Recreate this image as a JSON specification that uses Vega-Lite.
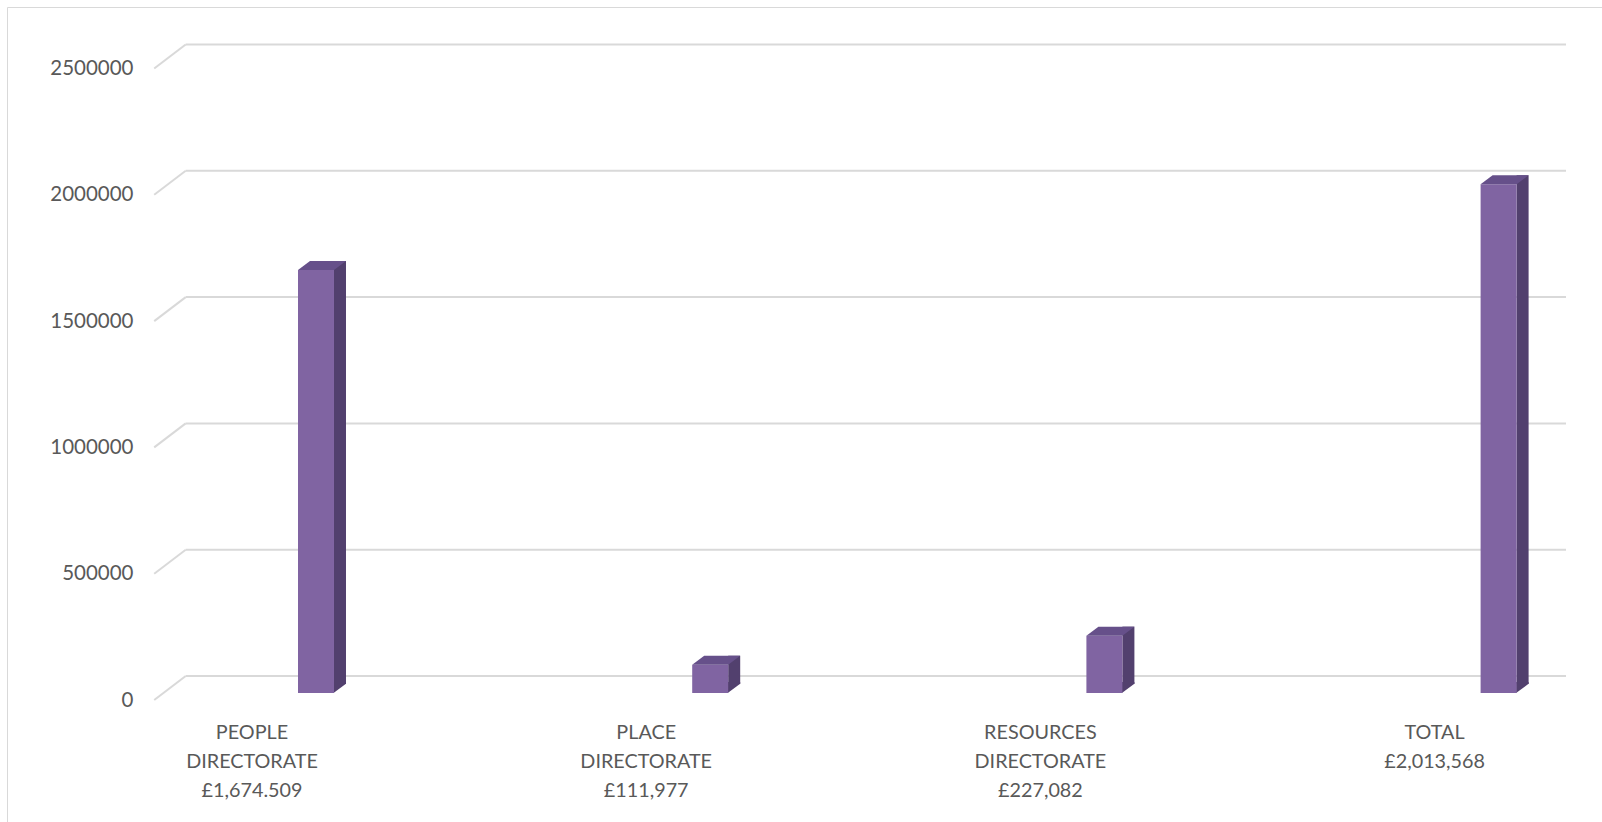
{
  "$schema": "https://vega.github.io/schema/vega-lite/v6.json",
  "width": 1596,
  "height": 816,
  "autosize": {"type": "none"},
  "padding": {"left": 7, "top": 7, "right": -1, "bottom": -1},
  "background": "white",
  "config": {"view": {"stroke": "#D9D9D9", "strokeWidth": 1}, "font": "Lato"},
  "datasets": {
    "spend": [
      {"category": "PEOPLE DIRECTORATE £1,674.509", "amount": 1674509},
      {"category": "PLACE DIRECTORATE £111,977", "amount": 111977},
      {"category": "RESOURCES DIRECTORATE £227,082", "amount": 227082},
      {"category": "TOTAL £2,013,568", "amount": 2013568}
    ],
    "grid": [
      {"v": 0}, {"v": 500000}, {"v": 1000000}, {"v": 1500000}, {"v": 2000000}, {"v": 2500000}
    ]
  },
  "resolve": {"scale": {"x": "independent"}},
  "layer": [
    {
      "data": {"name": "grid"},
      "mark": {"type": "rule", "stroke": "#D9D9D9", "strokeWidth": 2, "yOffset": -24},
      "encoding": {
        "x": {"datum": 0, "type": "quantitative", "scale": {"domain": [0, 1], "range": [178.7, 1559], "nice": false, "zero": false}, "axis": null},
        "x2": {"datum": 1},
        "y": {
          "field": "v", "type": "quantitative",
          "scale": {"domain": [0, 2500000], "range": [693, 61.5], "nice": false},
          "axis": {
            "title": null, "values": [0, 500000, 1000000, 1500000, 2000000, 2500000], "format": "d",
            "labelFontSize": 20.5, "labelColor": "#595959", "labelFont": "Lato", "domain": false, "ticks": false,
            "tickSize": 0, "labelPadding": 0, "offset": -126, "grid": false, "labelBaseline": "middle"
          }
        }
      }
    },
    {
      "data": {"name": "grid"},
      "mark": {"type": "rule", "stroke": "#D9D9D9", "strokeWidth": 2, "xOffset": -31.5, "x2Offset": 0, "yOffset": 0, "y2Offset": -24},
      "encoding": {
        "x": {"datum": 0, "type": "quantitative", "scale": {"domain": [0, 1], "range": [178.7, 1559], "nice": false, "zero": false}, "axis": null},
        "x2": {"datum": 0},
        "y": {"field": "v", "type": "quantitative", "scale": {"domain": [0, 2500000], "range": [693, 61.5], "nice": false}},
        "y2": {"field": "v"}
      }
    },
    {
      "data": {"name": "spend"},
      "mark": {"type": "bar", "width": 12, "xOffset": 24, "yOffset": -16, "y2Offset": -16, "color": "#52406E"},
      "encoding": {
        "x": {"field": "category", "type": "nominal", "sort": null, "scale": {"type": "band", "range": [291, 1509.6], "paddingInner": 0.9087, "paddingOuter": 0}, "axis": null},
        "y": {"field": "amount", "type": "quantitative", "scale": {"domain": [0, 2500000], "range": [693, 61.5], "nice": false}}
      }
    },
    {
      "data": {"name": "spend"},
      "mark": {"type": "point", "shape": "M 17.5 0 L 30 -9.3 L 30 -11 L 17.5 -11 Z", "size": 4, "filled": true, "fill": "#52406E", "strokeWidth": 0, "opacity": 1, "yOffset": -7},
      "encoding": {
        "x": {"field": "category", "type": "nominal", "sort": null, "scale": {"type": "band", "range": [291, 1509.6], "paddingInner": 0.9087, "paddingOuter": 0}, "axis": null},
        "y": {"datum": 0, "type": "quantitative", "scale": {"domain": [0, 2500000], "range": [693, 61.5], "nice": false}}
      }
    },
    {
      "data": {"name": "spend"},
      "mark": {"type": "bar", "yOffset": -7, "y2Offset": -7, "color": "#8064A2"},
      "encoding": {
        "x": {
          "field": "category", "type": "nominal", "sort": null,
          "scale": {"type": "band", "range": [291, 1509.6], "paddingInner": 0.9087, "paddingOuter": 0},
          "axis": {
            "title": null, "labelAngle": 0, "labelExpr": "split(datum.label, ' ')",
            "labelOffset": -64, "labelFontSize": 19.8, "labelColor": "#595959", "labelLineHeight": 29.2,
            "labelBaseline": "top", "labelAlign": "center", "domain": false, "ticks": false, "tickSize": 0,
            "labelPadding": 0, "offset": -101, "labelLimit": 400, "grid": false, "labelFont": "Lato"
          }
        },
        "y": {"field": "amount", "type": "quantitative", "scale": {"domain": [0, 2500000], "range": [693, 61.5], "nice": false}}
      }
    },
    {
      "data": {"name": "spend"},
      "mark": {"type": "point", "shape": "M -18 0 L 18 0 L 30 -9 L -6 -9 Z", "size": 4, "filled": true, "fill": "#66508A", "strokeWidth": 0, "opacity": 1, "yOffset": -7},
      "encoding": {
        "x": {"field": "category", "type": "nominal", "sort": null, "scale": {"type": "band", "range": [291, 1509.6], "paddingInner": 0.9087, "paddingOuter": 0}, "axis": null},
        "y": {"field": "amount", "type": "quantitative", "scale": {"domain": [0, 2500000], "range": [693, 61.5], "nice": false}}
      }
    }
  ]
}
